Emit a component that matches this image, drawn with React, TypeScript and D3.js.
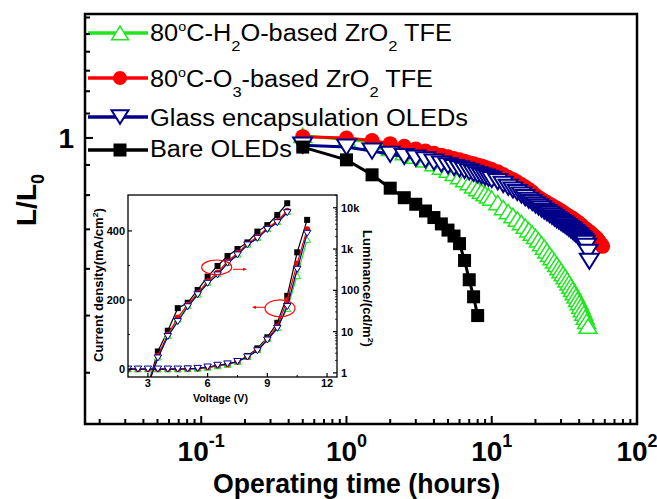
import React from 'react';
import * as d3 from 'd3';

const W = 657;
const H = 499;
const FONT = '"Liberation Sans", Arial, Helvetica, sans-serif';

// main chart: operating time (h) vs L/L0
const hours = [
  0.5, 1, 1.5, 2, 2.5, 3, 3.5, 4, 4.5, 5, 5.5, 6, 6.5, 7, 7.5, 8, 8.5, 9, 9.5, 10,
  11, 12, 13, 14, 15, 16, 17, 18, 19, 20, 21, 22, 23, 24, 25, 26, 27, 28, 29, 30,
  31, 32, 33, 34, 35, 36, 37, 38, 39, 40, 41, 42, 43, 44, 45, 46, 47, 48, 49, 50,
  51, 52, 53, 54, 55, 56, 57, 58
];
const h2oL = [
  1.01, 0.993, 0.985, 0.96, 0.945, 0.932, 0.918, 0.905, 0.893, 0.882, 0.871, 0.86, 0.85, 0.84, 0.83, 0.821, 0.813, 0.805, 0.798, 0.791,
  0.777, 0.762, 0.75, 0.739, 0.729, 0.719, 0.709, 0.699, 0.69, 0.681,
  0.672, 0.662, 0.653, 0.644, 0.635, 0.627, 0.619, 0.611, 0.603, 0.596,
  0.589, 0.582, 0.575, 0.568, 0.561, 0.554, 0.547, 0.54, 0.533, 0.526,
  0.519, 0.512, 0.505, 0.497, 0.489, 0.48
];
const o3L = [
  1.005, 1.0, 0.99, 0.978, 0.968, 0.958, 0.95, 0.942, 0.935, 0.929, 0.923, 0.918, 0.913, 0.908, 0.904, 0.9, 0.896, 0.892, 0.888, 0.884,
  0.876, 0.867, 0.858, 0.85, 0.842, 0.834, 0.826, 0.818, 0.81, 0.8,
  0.793, 0.787, 0.782, 0.777, 0.772, 0.768, 0.764, 0.76, 0.756, 0.752,
  0.748, 0.744, 0.74, 0.737, 0.734, 0.731, 0.727, 0.723, 0.72, 0.717,
  0.713, 0.709, 0.705, 0.702, 0.699, 0.696, 0.693, 0.69, 0.687, 0.684,
  0.681, 0.678, 0.675, 0.671, 0.667, 0.663, 0.659, 0.655
];
const glassL = [
  0.972, 0.965, 0.95, 0.938, 0.93, 0.924, 0.918, 0.91, 0.903, 0.897, 0.891, 0.886, 0.881, 0.876, 0.871, 0.866, 0.862, 0.858, 0.854, 0.85,
  0.843, 0.834, 0.825, 0.816, 0.808, 0.8, 0.792, 0.784, 0.777, 0.77,
  0.764, 0.758, 0.752, 0.747, 0.742, 0.737, 0.732, 0.727, 0.723, 0.719,
  0.715, 0.711, 0.707, 0.703, 0.699, 0.695, 0.691, 0.687, 0.683, 0.679,
  0.675, 0.671, 0.667, 0.663, 0.655, 0.64, 0.618
];
const bareHours = [0.5, 1, 1.5, 2, 2.5, 3, 3.5, 4, 4.5, 5, 5.5, 6, 6.5, 7, 7.5, 8];
const bareL = [0.965, 0.918, 0.866, 0.822, 0.792, 0.772, 0.752, 0.733, 0.715, 0.698, 0.682, 0.662, 0.62, 0.575, 0.538, 0.5];

const xMajor = [0.1, 1, 10, 100];
const xExp = ['-1', '0', '1', '2'];
const yMinor = [0.4, 0.5, 0.6, 0.7, 0.8, 0.9, 1.1, 1.2, 1.3, 1.4, 1.5, 1.6];

// inset: J-V-L
const voltage = [2, 2.5, 3, 3.5, 4, 4.5, 5, 5.5, 6, 6.5, 7, 7.5, 8, 8.5, 9, 9.5, 10, 10.5, 11];
const jBare = [0, 0, 0, 0, 0, 0, 1, 2, 5, 9, 14, 22, 38, 60, 92, 134, 212, 338, 432];
const jO3 = [0, 0, 0, 0, 0, 0, 0.5, 2, 5, 10, 14, 22, 35, 55, 86, 124, 200, 306, 405];
const jH2O = [0, 0, 0, 0, 0, 0, 0.5, 2, 5, 9, 13, 22, 36, 56, 88, 120, 175, 270, 375];
const jGlass = [0, 0, 0, 0, 0, 0, 0.5, 2, 6, 11, 15, 22, 35, 53, 84, 118, 181, 289, 393];

const lumVoltage = [3, 3.5, 4, 4.5, 5, 5.5, 6, 6.5, 7, 7.5, 8, 8.5, 9, 9.5, 10];
const lumBare = [0.5, 3.3, 10.5, 37, 50, 102, 215, 390, 680, 1000, 1450, 2650, 3800, 6700, 12900];
const lumO3 = [0.5, 2.6, 8.5, 22, 45, 85, 165, 270, 500, 800, 1350, 2000, 3200, 4800, 8500];
const lumH2O = [0.5, 2.4, 8, 20, 42, 80, 155, 250, 470, 750, 1300, 1900, 3100, 4600, 8000];
const lumGlass = [0.5, 2.3, 7.6, 17.5, 40, 78, 148, 236, 455, 720, 1260, 1820, 3000, 4360, 7600];

const insetXTicks = [3, 6, 9, 12];
const insetLeftTicks = [0, 200, 400];
const insetRightTicks = [1, 10, 100, 1000, 10000];
const insetRightLabels = ['1', '10', '100', '1k', '10k'];

const GREEN = '#1fe61f';
const RED = '#ff0000';
const NAVY = '#000088';

// main plot box
const M = { left: 85, right: 637, top: 14, bottom: 424 };
const x = d3.scaleLog().domain([Math.pow(10, -1.8), 100]).range([M.left, M.right]);
const y = d3.scaleLog().domain([0.3275, 1.622]).range([M.bottom, M.top]);

// inset box
const I = { left: 128, right: 337, top: 195, bottom: 377 };
const ix = d3.scaleLinear().domain([2, 12.5]).range([I.left, I.right]);
const iyL = d3.scaleLinear().domain([-23, 504]).range([I.bottom, I.top]);
const iyR = d3.scaleLog().domain([Math.pow(10, -0.1), Math.pow(10, 4.31)]).range([I.bottom, I.top]);

function triUp(cx: number, cy: number, w: number, h: number) {
  return `M${cx - w / 2},${cy + h / 2}L${cx},${cy - h / 2}L${cx + w / 2},${cy + h / 2}Z`;
}
function triDown(cx: number, cy: number, w: number, h: number) {
  return `M${cx - w / 2},${cy - h / 2}L${cx},${cy + h / 2}L${cx + w / 2},${cy - h / 2}Z`;
}

type Kind = 'up' | 'down' | 'circle' | 'square';

function Marker({ kind, cx, cy, s, color, sw }: { kind: Kind; cx: number; cy: number; s: number; color: string; sw: number }) {
  if (kind === 'circle') return <circle cx={cx} cy={cy} r={s / 2} fill={color} />;
  if (kind === 'square') return <rect x={cx - s / 2} y={cy - s / 2} width={s} height={s} fill={color} />;
  const d = kind === 'up' ? triUp(cx, cy, s, s * 0.8) : triDown(cx, cy, s, s * 0.8);
  return <path d={d} fill="#fff" stroke={color} strokeWidth={sw} strokeLinejoin="miter" />;
}

function Series({ xs, ys, sx, sy, kind, color, s, lw, sw }: any) {
  const pts: [number, number][] = xs.map((v: number, i: number) => [sx(v), sy(ys[i])]);
  const line = d3.line()(pts) || '';
  return (
    <g>
      <path d={line} fill="none" stroke={color} strokeWidth={lw} />
      {pts.map((p, i) => (
        <Marker key={i} kind={kind} cx={p[0]} cy={p[1]} s={s} color={color} sw={sw} />
      ))}
    </g>
  );
}

function xMinorTicks() {
  const out: number[] = [];
  for (let e = -2; e <= 1; e++) {
    for (let k = 2; k <= 9; k++) {
      const v = k * Math.pow(10, e);
      if (v >= x.domain()[0] && v <= 100) out.push(v);
    }
  }
  return out;
}

function insetRightMinor() {
  const out: number[] = [];
  for (let e = 0; e <= 4; e++) {
    for (let k = 2; k <= 9; k++) {
      const v = k * Math.pow(10, e);
      if (v <= iyR.domain()[1]) out.push(v);
    }
  }
  return out;
}

const legendRows = [
  { y: 33, base: 41, kind: 'up' as Kind, color: GREEN, len: 302 },
  { y: 78, base: 87, kind: 'circle' as Kind, color: RED, len: 283 },
  { y: 117, base: 126, kind: 'down' as Kind, color: NAVY, len: 318 },
  { y: 150, base: 157, kind: 'square' as Kind, color: '#000', len: 142 }
];

function LegendText({ i, base, len }: { i: number; base: number; len: number }) {
  const common = { x: 150, y: base, fontSize: 23, textLength: len, lengthAdjust: 'spacingAndGlyphs' as const };
  if (i === 0)
    return (
      <text {...common}>
        80<tspan fontSize={13} dy={-10}>o</tspan>
        <tspan dy={10}>C-H</tspan>
        <tspan fontSize={15} dy={10}>2</tspan>
        <tspan dy={-10}>O-based ZrO</tspan>
        <tspan fontSize={15} dy={10}>2</tspan>
        <tspan dy={-10}> TFE</tspan>
      </text>
    );
  if (i === 1)
    return (
      <text {...common}>
        80<tspan fontSize={13} dy={-10}>o</tspan>
        <tspan dy={10}>C-O</tspan>
        <tspan fontSize={15} dy={10}>3</tspan>
        <tspan dy={-10}>-based ZrO</tspan>
        <tspan fontSize={15} dy={10}>2</tspan>
        <tspan dy={-10}> TFE</tspan>
      </text>
    );
  if (i === 2) return <text {...common}>Glass encapsulation OLEDs</text>;
  return <text {...common}>Bare OLEDs</text>;
}

export default function App() {
  const iline = (xs: number[], ys: number[], sy: any) =>
    d3.line()(xs.map((v, i) => [ix(v), sy(ys[i])] as [number, number])) || '';

  return (
    <svg
      width={W}
      height={H}
      style={{ position: 'absolute', left: 0, top: 0, background: '#fff' }}
      fontFamily={FONT}
    >
      <defs>
        <clipPath id="insetClip">
          <rect x={I.left} y={I.top} width={I.right - I.left} height={I.bottom - I.top} />
        </clipPath>
      </defs>
      <rect width={W} height={H} fill="#fff" />

      {/* main series */}
      <Series xs={hours.slice(0, h2oL.length)} ys={h2oL} sx={x} sy={y} kind="up" color={GREEN} s={18} lw={3} sw={1.5} />
      <Series xs={hours.slice(0, o3L.length)} ys={o3L} sx={x} sy={y} kind="circle" color={RED} s={15} lw={3} sw={0} />
      <Series xs={hours.slice(0, glassL.length)} ys={glassL} sx={x} sy={y} kind="down" color={NAVY} s={19} lw={3} sw={2} />
      <Series xs={bareHours} ys={bareL} sx={x} sy={y} kind="square" color="#000" s={13} lw={3} sw={0} />

      {/* legend */}
      {legendRows.map((r, i) => (
        <g key={i}>
          <line x1={88} x2={148} y1={r.y} y2={r.y} stroke={r.color} strokeWidth={3.5} />
          <Marker kind={r.kind} cx={120} cy={r.y} s={r.kind === 'circle' ? 14 : r.kind === 'square' ? 13 : 17} color={r.color} sw={r.kind === 'up' ? 1.5 : 2} />
          <LegendText i={i} base={r.base} len={r.len} />
        </g>
      ))}

      {/* inset */}
      <rect x={I.left} y={I.top} width={I.right - I.left} height={I.bottom - I.top} fill="#fff" />
      <g clipPath="url(#insetClip)">
        {[
          { j: jBare, l: lumBare, c: '#000', k: 'square' as Kind, s: 6 },
          { j: jH2O, l: lumH2O, c: GREEN, k: 'up' as Kind, s: 7 },
          { j: jO3, l: lumO3, c: RED, k: 'circle' as Kind, s: 6 },
          { j: jGlass, l: lumGlass, c: NAVY, k: 'down' as Kind, s: 7.5 }
        ].map((d, si) => (
          <g key={si}>
            <path d={iline(voltage, d.j, iyL)} fill="none" stroke={d.c} strokeWidth={1.2} />
            <path d={iline(lumVoltage, d.l, iyR)} fill="none" stroke={d.c} strokeWidth={1.2} />
            {voltage.map((v, i) => (
              <Marker key={'j' + i} kind={d.k} cx={ix(v)} cy={iyL(d.j[i])} s={d.s} color={d.c} sw={1} />
            ))}
            {lumVoltage.map((v, i) => (
              <Marker key={'l' + i} kind={d.k} cx={ix(v)} cy={iyR(d.l[i])} s={d.s} color={d.c} sw={1} />
            ))}
          </g>
        ))}
        {/* annotation ellipses */}
        <ellipse cx={216.7} cy={267.3} rx={15} ry={7.3} fill="none" stroke={RED} strokeWidth={1.2} />
        <ellipse cx={280} cy={308.3} rx={15} ry={8.5} fill="none" stroke={RED} strokeWidth={1.2} />
        <line x1={233} x2={246} y1={269.3} y2={269.3} stroke={RED} strokeWidth={1} />
        <path d="M247,269.3l-4,-1.6v3.2z" fill={RED} />
        <line x1={265} x2={253} y1={307.3} y2={307.3} stroke={RED} strokeWidth={1} />
        <path d="M252,307.3l4,-1.6v3.2z" fill={RED} />
      </g>
      <rect x={I.left} y={I.top} width={I.right - I.left} height={I.bottom - I.top} fill="none" stroke="#000" strokeWidth={1.3} />
      {insetXTicks.map(v => (
        <g key={v}>
          <line x1={ix(v)} x2={ix(v)} y1={I.bottom} y2={I.bottom - 4} stroke="#000" strokeWidth={1.2} />
          <text x={ix(v)} y={387} textAnchor="middle" fontSize={11} fontWeight="bold">{v}</text>
        </g>
      ))}
      {[4.5, 7.5, 10.5].map(v => (
        <line key={v} x1={ix(v)} x2={ix(v)} y1={I.bottom} y2={I.bottom - 2} stroke="#000" strokeWidth={1} />
      ))}
      {insetLeftTicks.map(v => (
        <g key={v}>
          <line x1={I.left} x2={I.left + 4} y1={iyL(v)} y2={iyL(v)} stroke="#000" strokeWidth={1.2} />
          <text x={125} y={iyL(v) + 4} textAnchor="end" fontSize={11} fontWeight="bold">{v}</text>
        </g>
      ))}
      {[100, 300].map(v => (
        <line key={v} x1={I.left} x2={I.left + 2} y1={iyL(v)} y2={iyL(v)} stroke="#000" strokeWidth={1} />
      ))}
      {insetRightTicks.map((v, i) => (
        <g key={v}>
          <line x1={I.right} x2={I.right - 4} y1={iyR(v)} y2={iyR(v)} stroke="#000" strokeWidth={1.2} />
          <text x={341} y={iyR(v) + 4} fontSize={11} fontWeight="bold">{insetRightLabels[i]}</text>
        </g>
      ))}
      {insetRightMinor().map(v => (
        <line key={v} x1={I.right} x2={I.right - 2} y1={iyR(v)} y2={iyR(v)} stroke="#000" strokeWidth={0.8} />
      ))}
      <text x={193} y={402} fontSize={11} fontWeight="bold" textLength={55} lengthAdjust="spacingAndGlyphs">Voltage (V)</text>
      <text transform="translate(103,362) rotate(-90)" fontSize={12} fontWeight="bold" textLength={154} lengthAdjust="spacingAndGlyphs">
        Current density(mA/cm<tspan fontSize={8} dy={-5}>2</tspan><tspan dy={5}>)</tspan>
      </text>
      <text transform="translate(363,230) rotate(90)" fontSize={12} fontWeight="bold" textLength={117} lengthAdjust="spacingAndGlyphs">
        Luminance/(cd/m<tspan fontSize={8} dy={-5}>2</tspan><tspan dy={5}>)</tspan>
      </text>

      {/* main axes */}
      <rect x={M.left} y={M.top} width={M.right - M.left} height={M.bottom - M.top} fill="none" stroke="#000" strokeWidth={2.5} />
      {xMajor.map((v, i) => (
        <g key={v}>
          <line x1={x(v)} x2={x(v)} y1={M.bottom} y2={M.bottom - 8} stroke="#000" strokeWidth={2} />
          <text x={x(v)} y={461} textAnchor="middle" fontSize={28} fontWeight="bold">
            10<tspan fontSize={18} dy={-14}>{xExp[i]}</tspan>
          </text>
        </g>
      ))}
      {xMinorTicks().map(v => (
        <line key={v} x1={x(v)} x2={x(v)} y1={M.bottom} y2={M.bottom - 5} stroke="#000" strokeWidth={2} />
      ))}
      <line x1={M.left} x2={M.left + 8} y1={y(1)} y2={y(1)} stroke="#000" strokeWidth={2} />
      {yMinor.map(v => (
        <line key={v} x1={M.left} x2={M.left + 5} y1={y(v)} y2={y(v)} stroke="#000" strokeWidth={2} />
      ))}
      <text x={74} y={y(1) + 10} textAnchor="end" fontSize={28} fontWeight="bold">1</text>
      <text x={213} y={493} fontSize={27} fontWeight="bold" textLength={287} lengthAdjust="spacingAndGlyphs">Operating time (hours)</text>
      <text transform="translate(36,200) rotate(-90)" textAnchor="middle" fontSize={28} fontWeight="bold">
        L/L<tspan fontSize={18} dy={8}>0</tspan>
      </text>
    </svg>
  );
}
